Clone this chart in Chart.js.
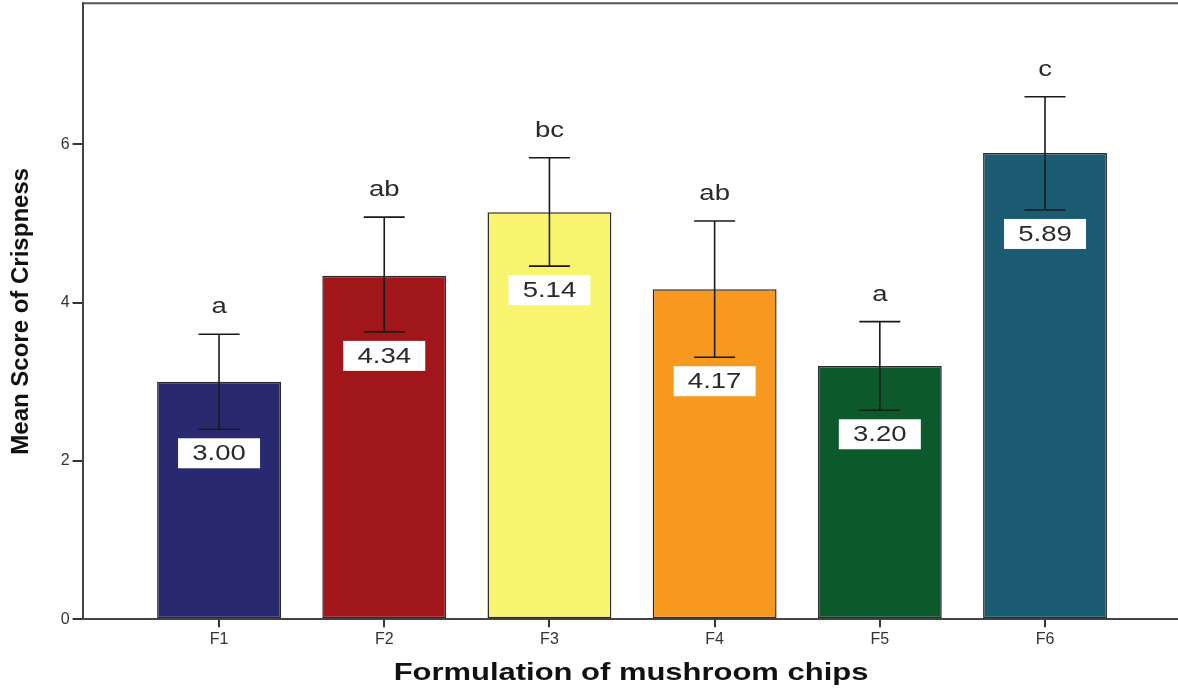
<!DOCTYPE html>
<html>
<head>
<meta charset="utf-8">
<script src="https://cdn.jsdelivr.net/npm/chart.js@4.4.1/dist/chart.umd.min.js"></script>
<style>
  html, body { margin: 0; padding: 0; background: #fff; }
  #wrap { width: 1178px; height: 689px; position: relative; }
</style>
</head>
<body>
<div id="wrap"><canvas id="c" width="1178" height="689"></canvas></div>
<script>
const categories = ['F1', 'F2', 'F3', 'F4', 'F5', 'F6'];
const means = [3.00, 4.34, 5.14, 4.17, 3.20, 5.89];
const upperErr = [3.60, 5.08, 5.83, 5.03, 3.76, 6.60];
const lowerErr = [2.40, 3.63, 4.46, 3.31, 2.64, 5.17];
const groupLetters = ['a', 'ab', 'bc', 'ab', 'a', 'c'];
const valueLabels = ['3.00', '4.34', '5.14', '4.17', '3.20', '5.89'];
const barColors = ['#29296f', '#a0161b', '#f8f46e', '#f7991f', '#0c5a2c', '#1c5c73'];
const yTicks = [0, 2, 4, 6];
const xTitle = 'Formulation of mushroom chips';
const yTitle = 'Mean Score of Crispness';

const SX = 1.25; // horizontal stretch of the reference image text

function stretchedText(ctx, text, x, y, font, color, align, baseline, sx) {
  ctx.save();
  ctx.font = font;
  ctx.fillStyle = color;
  ctx.textAlign = align || 'center';
  ctx.textBaseline = baseline || 'middle';
  ctx.translate(x, y);
  ctx.scale(sx || SX, 1);
  ctx.fillText(text, 0, 0);
  ctx.restore();
}

const overlay = {
  id: 'overlay',
  afterDatasetsDraw(chart) {
    const ctx = chart.ctx;
    const xs = chart.scales.x, ys = chart.scales.y;
    const area = chart.chartArea;
    // top frame line
    ctx.save();
    ctx.strokeStyle = '#555';
    ctx.lineWidth = 2;
    ctx.beginPath();
    ctx.moveTo(area.left, area.top);
    ctx.lineTo(area.right, area.top);
    ctx.stroke();
    ctx.restore();

    categories.forEach((c, i) => {
      const x = xs.getPixelForValue(i);
      const yU = ys.getPixelForValue(upperErr[i]);
      const yL = ys.getPixelForValue(lowerErr[i]);
      ctx.save();
      ctx.strokeStyle = '#1a1a1a';
      ctx.lineWidth = 1.6;
      ctx.beginPath();
      ctx.moveTo(x, yU); ctx.lineTo(x, yL);
      ctx.moveTo(x - 20.5, yU); ctx.lineTo(x + 20.5, yU);
      ctx.moveTo(x - 20.5, yL); ctx.lineTo(x + 20.5, yL);
      ctx.stroke();
      // value label box
      const bw = 82, bh = 30;
      const by = yL + 9;
      ctx.fillStyle = '#ffffff';
      ctx.fillRect(x - bw / 2, by, bw, bh);
      ctx.restore();
      stretchedText(ctx, valueLabels[i], x, by + bh / 2 + 1, '22px "Liberation Sans", Arial, sans-serif', '#2a2a2a');
      // group letters
      stretchedText(ctx, groupLetters[i], x, yU - 21, '22px "Liberation Sans", Arial, sans-serif', '#2a2a2a', 'center', 'alphabetic');
    });

    // x axis title
    stretchedText(ctx, xTitle, 631, 673, 'bold 24px "Liberation Sans", Arial, sans-serif', '#111', 'center', 'middle', 1.29);
  }
};

new Chart(document.getElementById('c'), {
  type: 'bar',
  data: {
    datasets: [{
      data: means.map((m, i) => ({ x: i, y: m })),
      backgroundColor: barColors,
      borderColor: '#2b2b2b',
      borderWidth: 1.5,
      borderSkipped: false,
      barPercentage: 0.75,
      categoryPercentage: 1.0
    }]
  },
  options: {
    responsive: false,
    animation: false,
    devicePixelRatio: 1,
    layout: { padding: { top: 3.3, right: 0, left: 0, bottom: 0 } },
    plugins: { legend: { display: false }, tooltip: { enabled: false } },
    scales: {
      x: {
        type: 'linear',
        offset: false,
        min: -0.826,
        max: 5.805,
        afterBuildTicks(scale) { scale.ticks = categories.map((c, i) => ({ value: i })); },
        afterFit(scale) { scale.height = 69.7; scale.paddingLeft = 0; scale.paddingRight = 0; },
        grid: { display: true, offset: false, drawOnChartArea: false, drawTicks: true, tickLength: 8, color: '#333', lineWidth: 2 },
        border: { display: true, color: '#444', width: 2 },
        ticks: {
          callback: (v) => categories[v] !== undefined ? categories[v] : '',
          font: { family: '"Liberation Sans", Arial, sans-serif', size: 16 },
          color: '#333',
          padding: 3,
          maxRotation: 0,
          autoSkip: false
        }
      },
      y: {
        min: 0,
        max: 7.78,
        afterBuildTicks(scale) { scale.ticks = yTicks.map(v => ({ value: v })); },
        afterFit(scale) { scale.width = 82.6; scale.paddingTop = 0; scale.paddingBottom = 0; },
        grid: { display: true, drawOnChartArea: false, drawTicks: true, tickLength: 10, color: '#333', lineWidth: 2 },
        border: { display: true, color: '#444', width: 2 },
        ticks: {
          font: { family: '"Liberation Sans", Arial, sans-serif', size: 16 },
          color: '#333',
          padding: 3
        },
        title: {
          display: true,
          text: yTitle,
          font: { family: '"Liberation Sans", Arial, sans-serif', size: 24, weight: 'bold' },
          color: '#111',
          padding: { top: 7, bottom: 0 }
        }
      }
    }
  },
  plugins: [overlay]
});
</script>
</body>
</html>
